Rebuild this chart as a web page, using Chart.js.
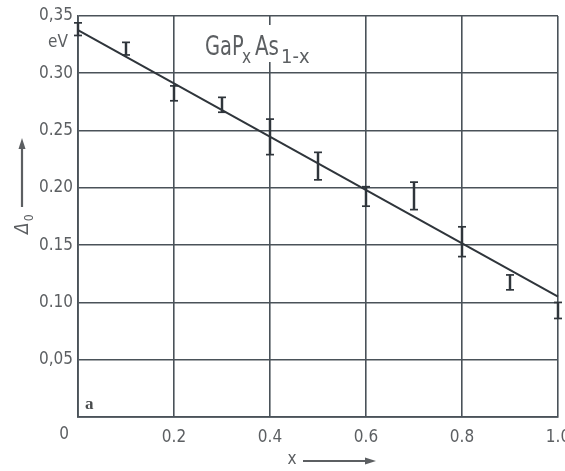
<!DOCTYPE html>
<html>
<head>
<meta charset="utf-8">
<script src="https://cdn.jsdelivr.net/npm/chart.js@4.4.1/dist/chart.umd.min.js"></script>
<style>
  html, body { margin: 0; padding: 0; background: #ffffff; }
  #wrap { width: 565px; height: 471px; position: relative; }
</style>
</head>
<body>
<div id="wrap"><canvas id="c" width="565" height="471"></canvas></div>
<script>
// Composition x of GaP(x)As(1-x)
const compX = [0, 0.1, 0.2, 0.3, 0.4, 0.5, 0.6, 0.7, 0.8, 0.9, 1.0];
// Spin-orbit splitting Δ0 (eV): upper and lower ends of each error bar
const deltaHigh = [0.344, 0.327, 0.289, 0.279, 0.260, 0.231, 0.201, 0.205, 0.166, 0.124, 0.100];
const deltaLow  = [0.333, 0.316, 0.276, 0.266, 0.229, 0.207, 0.184, 0.181, 0.140, 0.111, 0.086];
// Straight-line fit across the composition range
const fitX = [0, 1.0];
const fitY = [0.3377, 0.105];
// Axis tick labels
const xTickLabels = ['', '0.2', '0.4', '0.6', '0.8', '1.0'];
const yTickLabels = ['', '0,05', '0.10', '0.15', '0.20', '0.25', '0.30', '0,35'];

const INK = '#2f353b';
const GRID = '#4a5259';
const TEXT = '#5c5f62';
const NARROW = "'DejaVu Sans Condensed', 'Liberation Sans Narrow', sans-serif";

const barData = compX.map((x, i) => ({ x: x, y: [deltaLow[i], deltaHigh[i]] }));
const capData = compX.map((x, i) => ({ x: x, y: deltaHigh[i] }))
  .concat(compX.map((x, i) => ({ x: x, y: deltaLow[i] })));
const fitData = fitX.map((x, i) => ({ x: x, y: fitY[i] }));

function arrowHead(ctx, x, y, dir) {
  ctx.beginPath();
  if (dir === 'right') {
    ctx.moveTo(x, y);
    ctx.lineTo(x - 11, y - 3.5);
    ctx.lineTo(x - 11, y + 3.5);
  } else {
    ctx.moveTo(x, y);
    ctx.lineTo(x - 3.5, y + 11);
    ctx.lineTo(x + 3.5, y + 11);
  }
  ctx.closePath();
  ctx.fill();
}

// draw horizontally condensed text, returns drawn width
function narrowText(ctx, str, x, y, squeeze) {
  ctx.save();
  ctx.translate(x, y);
  ctx.scale(squeeze, 1);
  ctx.fillText(str, 0, 0);
  const w = ctx.measureText(str).width * squeeze;
  ctx.restore();
  return w;
}

const annotations = {
  id: 'annotations',
  beforeDatasetsDraw(chart) {
    const ctx = chart.ctx;
    ctx.save();
    // clear space behind the compound name
    ctx.fillStyle = '#ffffff';
    ctx.fillRect(200, 25, 118, 37);
    ctx.restore();
  },
  afterDraw(chart) {
    const ctx = chart.ctx;
    const xs = chart.scales.x, ys = chart.scales.y;
    ctx.save();
    ctx.fillStyle = TEXT;
    ctx.strokeStyle = TEXT;

    // compound name GaP_x As_1-x
    ctx.textBaseline = 'alphabetic';
    ctx.textAlign = 'left';
    ctx.font = '27px ' + NARROW;
    narrowText(ctx, 'GaP', 205, 55, 0.8);
    ctx.font = '19px ' + NARROW;
    narrowText(ctx, 'x', 242, 63, 0.9);
    ctx.font = '27px ' + NARROW;
    narrowText(ctx, 'As', 255, 55, 0.82);
    ctx.font = '19px ' + NARROW;
    narrowText(ctx, '1-x', 281, 63, 1.05);

    // unit beside the top tick
    ctx.font = '17px ' + NARROW;
    ctx.textAlign = 'center';
    ctx.textBaseline = 'middle';
    ctx.fillText('eV', 58, 43);

    // shared origin label
    ctx.fillText('0', xs.getPixelForValue(0) - 14, ys.getPixelForValue(0) + 18);

    // panel letter
    ctx.font = 'bold 17px "Liberation Serif", serif';
    ctx.textAlign = 'left';
    ctx.textBaseline = 'alphabetic';
    ctx.fillStyle = '#4a4c4e';
    ctx.fillText('a', 85, 409);
    ctx.fillStyle = TEXT;

    // x axis title with arrow
    ctx.font = '17px ' + NARROW;
    ctx.textAlign = 'center';
    ctx.textBaseline = 'middle';
    ctx.fillText('x', 292, 460);
    ctx.lineWidth = 1.8;
    ctx.beginPath();
    ctx.moveTo(303, 461);
    ctx.lineTo(368, 461);
    ctx.stroke();
    arrowHead(ctx, 376, 461, 'right');

    // y axis title Δ0 with arrow
    ctx.save();
    ctx.translate(28, 234);
    ctx.rotate(-Math.PI / 2);
    ctx.textAlign = 'left';
    ctx.textBaseline = 'alphabetic';
    ctx.font = 'italic 19px ' + NARROW;
    ctx.fillText('Δ', 0, 0);
    const dw = ctx.measureText('Δ').width;
    ctx.font = '12px ' + NARROW;
    ctx.fillText('0', dw + 1, 5);
    ctx.restore();
    ctx.lineWidth = 2.2;
    ctx.beginPath();
    ctx.moveTo(22, 207);
    ctx.lineTo(22, 147);
    ctx.stroke();
    arrowHead(ctx, 22, 138, 'up');

    ctx.restore();
  }
};

new Chart(document.getElementById('c'), {
  type: 'bar',
  data: {
    datasets: [
      {
        type: 'line',
        label: 'fit',
        data: fitData,
        borderColor: INK,
        borderWidth: 2,
        pointRadius: 0,
        fill: false,
        clip: false,
        order: 0
      },
      {
        type: 'bar',
        label: 'error bars',
        data: barData,
        backgroundColor: INK,
        borderWidth: 0,
        barThickness: 1.8,
        clip: false,
        order: 1
      },
      {
        type: 'line',
        label: 'caps',
        data: capData,
        showLine: false,
        pointStyle: 'line',
        pointRadius: 4,
        pointBorderWidth: 1.7,
        pointBorderColor: INK,
        pointBackgroundColor: INK,
        clip: false,
        order: 1
      }
    ]
  },
  options: {
    responsive: false,
    animation: false,
    devicePixelRatio: 1,
    layout: { padding: { top: 16, right: 7, left: 0, bottom: 0 } },
    plugins: {
      legend: { display: false },
      tooltip: { enabled: false },
      title: { display: false }
    },
    scales: {
      x: {
        type: 'linear',
        min: 0,
        max: 1.0,
        offset: false,
        ticks: {
          stepSize: 0.2,
          padding: 10,
          color: TEXT,
          font: { family: NARROW, size: 17 },
          maxRotation: 0,
          autoSkip: false,
          callback: (v, i) => xTickLabels[i]
        },
        grid: { color: GRID, lineWidth: 1.6, drawTicks: false, offset: false },
        border: { display: true, color: GRID, width: 1.8 },
        afterFit(scale) {
          scale.height = 54;
          scale.paddingLeft = 0;
          scale.paddingRight = 0;
        }
      },
      y: {
        type: 'linear',
        min: 0,
        max: 0.35,
        ticks: {
          stepSize: 0.05,
          padding: 5,
          color: TEXT,
          font: { family: NARROW, size: 17 },
          autoSkip: false,
          callback: (v, i) => yTickLabels[i]
        },
        grid: { color: GRID, lineWidth: 1.6, drawTicks: false },
        border: { display: true, color: GRID, width: 1.8 },
        afterFit(scale) {
          scale.width = 78;
          scale.paddingTop = 0;
          scale.paddingBottom = 0;
        }
      }
    }
  },
  plugins: [annotations]
});
</script>
</body>
</html>
